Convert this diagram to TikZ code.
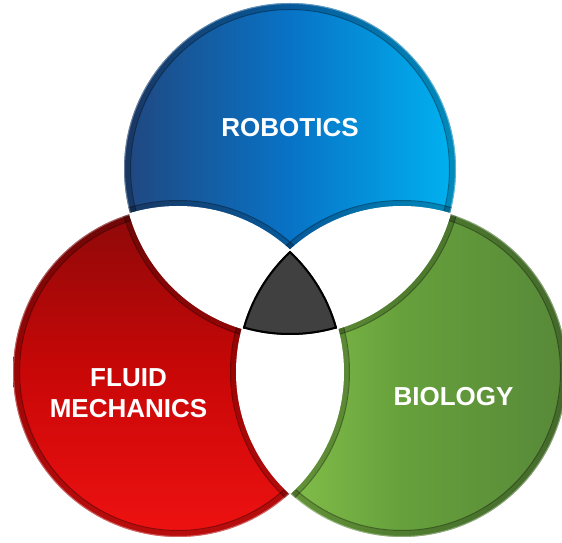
\documentclass[tikz,border=0pt]{standalone}
\usepackage{fontspec}
\setmainfont{Liberation Sans}
\definecolor{bL}{HTML}{21467E}
\definecolor{bM}{HTML}{0873C6}
\definecolor{bR}{HTML}{00B4F2}
\definecolor{rT}{HTML}{8A0909}
\definecolor{rM}{HTML}{C90707}
\definecolor{rB}{HTML}{F01212}
\definecolor{gL}{HTML}{8FCC50}
\definecolor{gM}{HTML}{66A03C}
\definecolor{gR}{HTML}{578838}
\definecolor{core}{HTML}{404040}
\def\cB{(290,374) circle (166pt)}
\def\cR{(178,171) circle (165pt)}
\def\cG{(402,171) circle (165pt)}
\begin{document}
\begin{tikzpicture}[x=1pt,y=1pt,
  rimband/.style={black, opacity=.22, line width=12pt},
  rimline/.style={black, opacity=.4, line width=1pt},
  rimlight/.style={white, opacity=.35, line width=2pt},
  gap/.style={white, line width=2pt},
  lab/.style={text=white, font=\bfseries\fontsize{26}{31}\selectfont, align=center, inner sep=0pt}]
\useasboundingbox (0,0) rectangle (562,543);
% ---- blue region
\begin{scope}
  \clip \cB;
  \shade[left color=bL, right color=bR, middle color=bM] (120,200) rectangle (460,545);
  \draw[rimband] \cB;
  \draw[rimlight] \cB;
  \draw[rimline] (290,374) circle (159.5pt);
  \draw[rimband] \cR;
  \draw[rimband] \cG;
  \draw[rimline] (178,171) circle (171.5pt);
  \draw[rimline] (402,171) circle (171.5pt);
\end{scope}
% ---- red region
\begin{scope}
  \clip \cR;
  \shade[top color=rT, bottom color=rB, middle color=rM] (10,0) rectangle (350,340);
  \draw[rimband] \cR;
  \draw[rimlight] \cR;
  \draw[rimline] (178,171) circle (158.5pt);
  \draw[rimband] \cB;
  \draw[rimband] \cG;
  \draw[rimline] (290,374) circle (172.5pt);
  \draw[rimline] (402,171) circle (171.5pt);
\end{scope}
% ---- green region
\begin{scope}
  \clip \cG;
  \shade[left color=gL, right color=gR, middle color=gM] (235,0) rectangle (570,340);
  \draw[rimband] \cG;
  \draw[rimlight] \cG;
  \draw[rimline] (402,171) circle (158.5pt);
  \draw[rimband] \cB;
  \draw[rimband] \cR;
  \draw[rimline] (290,374) circle (172.5pt);
  \draw[rimline] (178,171) circle (171.5pt);
\end{scope}
% ---- white pairwise overlaps
\begin{scope}
  \clip \cB;
  \filldraw[gap, fill=white] \cR;
  \filldraw[gap, fill=white] \cG;
\end{scope}
\begin{scope}
  \clip \cR;
  \filldraw[gap, fill=white] \cB;
  \filldraw[gap, fill=white] \cG;
\end{scope}
\begin{scope}
  \clip \cG;
  \filldraw[gap, fill=white] \cB;
  \filldraw[gap, fill=white] \cR;
\end{scope}
% ---- triple overlap
\begin{scope}
  \clip \cB;
  \clip \cR;
  \clip \cG;
  \fill[core] (0,0) rectangle (562,543);
  \draw[black, line width=4pt] \cB;
  \draw[black, line width=4pt] \cR;
  \draw[black, line width=4pt] \cG;
\end{scope}
% ---- labels
\node[lab] (rob) at (290,415) {ROBOTICS};
\node[lab] (flu) at (128.5,149.5) {FLUID\\MECHANICS};
\node[lab] (bio) at (453.5,146.5) {BIOLOGY};
\end{tikzpicture}
\end{document}
